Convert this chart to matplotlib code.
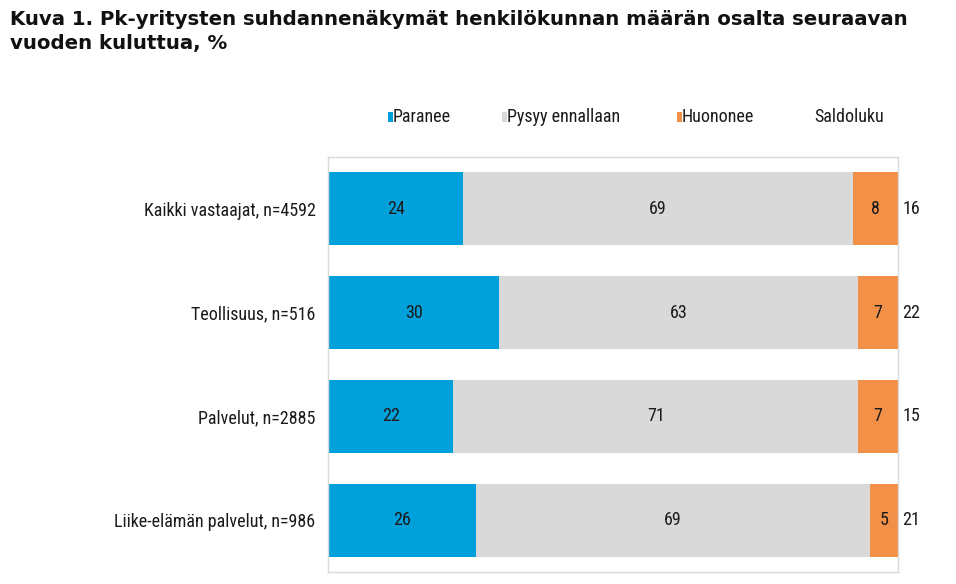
import matplotlib
matplotlib.use("Agg")
import matplotlib.pyplot as plt
from matplotlib.patches import Rectangle
from matplotlib import font_manager
import numpy as np

categories = ["Kaikki vastaajat, n=4592", "Teollisuus, n=516", "Palvelut, n=2885",
              "Liike-elämän palvelut, n=986"]
paranee = [24, 30, 22, 26]
pysyy = [69, 63, 71, 69]
huononee = [8, 7, 7, 5]
saldoluku = [16, 22, 15, 21]
series_names = ["Paranee", "Pysyy ennallaan", "Huononee"]
colors = ["#00A0DA", "#D9D9D9", "#F39047"]

title = "Kuva 1. Pk-yritysten suhdannenäkymät henkilökunnan määrän osalta seuraavan\nvuoden kuluttua, %"

names = {f.name for f in font_manager.fontManager.ttflist}
NARROW = ["DejaVu Sans"]
STRETCH = "condensed"
for cand in ["Liberation Sans Narrow", "Roboto Condensed", "Open Sans Condensed"]:
    if cand in names:
        NARROW = [cand, "DejaVu Sans"]
        STRETCH = "normal"
        break
FS = 13 if STRETCH == "normal" else 11.5
tkw = dict(family=NARROW, fontstretch=STRETCH, fontsize=FS, color="#1a1a1a")

fig = plt.figure(figsize=(9.56, 5.84), dpi=100)
ax = fig.add_axes([328/956, 1-572/584, 570/956, 415/584])

data = np.array([paranee, pysyy, huononee], dtype=float)
shares = data / data.sum(axis=0) * 100
y = np.arange(len(categories))
left = np.zeros(len(categories))
for i, (vals, raw) in enumerate(zip(shares, data)):
    ax.barh(y, vals, left=left, height=0.705, color=colors[i], edgecolor="none")
    for yi, (l, v, r) in enumerate(zip(left, vals, raw)):
        ax.text(l + v/2, yi, f"{int(r)}", ha="center", va="center", **tkw)
    left = left + vals

for yi, s in enumerate(saldoluku):
    ax.text(100.8, yi, str(s), ha="left", va="center", clip_on=False, **tkw)

ax.set_xlim(0, 100)
ax.set_ylim(3.5, -0.5)
ax.set_yticks(y)
ax.set_yticklabels(categories, **tkw)
ax.tick_params(axis="y", length=0, pad=9)
ax.set_xticks([])
for sp in ax.spines.values():
    sp.set_color("#D9D9D9")
    sp.set_linewidth(1.0)

fig.text(10/956, 1-10/584, title, ha="left", va="top", fontsize=14.2,
         fontweight="bold", family="DejaVu Sans", color="#111111", linespacing=1.3)

# legend
leg_y = 1-117/584
leg_items = [(388, 393, series_names[0], colors[0]),
             (502, 507, series_names[1], colors[1]),
             (677, 682, series_names[2], colors[2]),
             (None, 814, "Saldoluku", None)]
for sq_x, tx, lab, col in leg_items:
    if sq_x is not None:
        fig.add_artist(Rectangle((sq_x/956, 1-122/584), 5/956, 10/584,
                                 transform=fig.transFigure, color=col, lw=0))
    fig.text(tx/956, leg_y, lab, ha="left", va="center", **tkw)

fig.savefig("out.png", dpi=100)
